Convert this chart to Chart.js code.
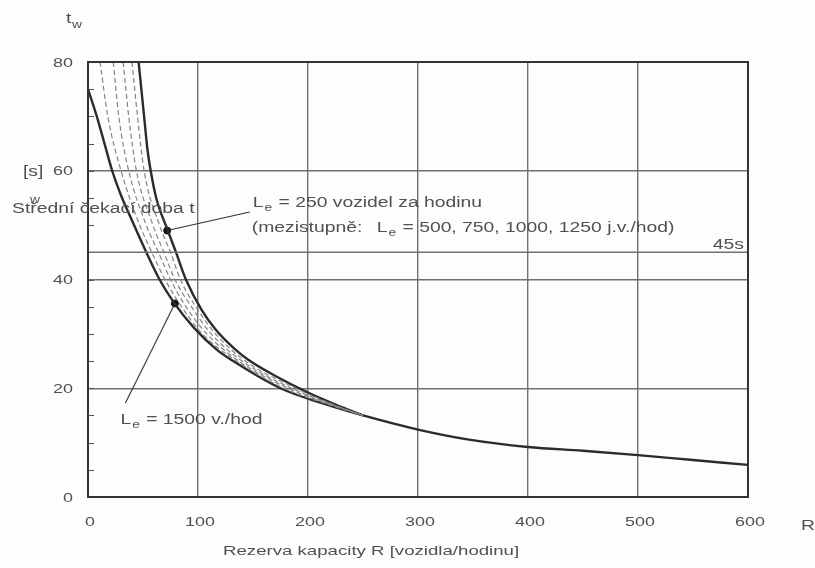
<!DOCTYPE html>
<html>
<head>
<meta charset="utf-8">
<script src="https://cdn.jsdelivr.net/npm/chart.js@4.4.1/dist/chart.umd.min.js"></script>
<style>
  html, body { margin: 0; padding: 0; background: #fdfdfd; }
  #wrap { width: 815px; height: 568px; position: relative; }
</style>
</head>
<body>
<div id="wrap"><canvas id="chart" width="815" height="568"></canvas></div>
<script>
// ── Data ──
const xTicks = [0, 100, 200, 300, 400, 500, 600];
const yTicks = [0, 20, 40, 60, 80];
const limitT = [45];                       // the marked 45 s level

// L_e = 250 veh/h (upper edge of the band)
const upperR = [46, 51, 54, 57, 62, 72, 80, 89, 103, 116, 133, 146, 170, 200, 225, 250];
const upperT = [80, 70, 64, 60, 55, 49.3, 45, 40, 34.5, 30.8, 27.3, 25.2, 22.3, 19.2, 17.0, 15.0];

// L_e = 1500 veh/h (lower edge) + common tail of all curves
const lowerR = [0, 8, 15, 22, 30, 39, 53, 65, 78, 96, 117, 132, 175, 212, 250, 300, 345, 400, 450, 500, 550, 600];
const lowerT = [75, 70, 65, 60, 55.5, 51.3, 45, 40, 35.8, 31.2, 27.1, 25, 20, 17.3, 15.0, 12.4, 10.6, 9.2, 8.5, 7.7, 6.8, 5.9];

// intermediate steps L_e = 500, 750, 1000, 1250 (same t levels)
const midT     = [80, 70, 60, 50, 45, 40, 35, 30, 25, 20, 17, 15.0];
const mid500R  = [40, 45, 51, 65, 75, 84, 98, 116, 143, 189, 223, 250];
const mid750R  = [32, 37, 44, 59, 69, 79, 94, 112, 140, 185, 222, 250];
const mid1000R = [23, 28, 37, 53, 64, 75, 89, 108, 137, 182, 220, 250];
const mid1250R = [11, 18, 30, 47, 58, 70, 85, 104, 135, 178, 219, 250];

// marked points and the ends of their leader lines
const mark250  = { x: 72, y: 49.0 }, lead250  = { x: 147, y: 52.4 };
const mark1500 = { x: 79, y: 35.6 }, lead1500 = { x: 34, y: 17.3 };

// ── Helpers ──
const pts = (xs, ys) => xs.map((x, i) => ({ x, y: ys[i] }));
const FONT = '"Liberation Sans", Arial, sans-serif';
const INK = '#505050';
const SX = 1.38;                           // the scan's text is drawn wide

const solid = data => ({
  data, showLine: true, borderColor: '#2b2b2b', borderWidth: 2.4,
  pointRadius: 0, cubicInterpolationMode: 'monotone', fill: false
});
const dashed = data => ({
  data, showLine: true, borderColor: '#858585', borderWidth: 1.2,
  borderDash: [5, 3], pointRadius: 0, cubicInterpolationMode: 'monotone', fill: false
});

// ── Extra text / box ──
const extras = {
  id: 'extras',
  beforeDatasetsDraw(chart) {
    const { ctx, chartArea: a, scales: { y } } = chart;
    ctx.save();
    // minor ticks on the y axis every 5 s
    ctx.strokeStyle = '#555'; ctx.lineWidth = 1;
    for (let v = 5; v < 80; v += 5) {
      const py = Math.round(y.getPixelForValue(v)) + 0.5;
      ctx.beginPath(); ctx.moveTo(a.left, py); ctx.lineTo(a.left + 6, py); ctx.stroke();
    }
    ctx.restore();
  },
  afterDraw(chart) {
    const { ctx, chartArea: a, scales: { x, y } } = chart;
    ctx.save();
    // frame
    ctx.strokeStyle = '#333'; ctx.lineWidth = 2;
    ctx.strokeRect(a.left, a.top, a.right - a.left, a.bottom - a.top);

    ctx.fillStyle = INK;
    ctx.textBaseline = 'middle';

    // stretched text, returns drawn width
    function txt(str, px, py, size, align) {
      ctx.font = size + 'px ' + FONT;
      const w = ctx.measureText(str).width * SX;
      ctx.save();
      ctx.textAlign = align || 'left';
      ctx.translate(px, py); ctx.scale(SX, 1);
      ctx.fillText(str, 0, 0);
      ctx.restore();
      return w;
    }
    // L with subscript e, followed by text
    function lText(str, px, py, size) {
      let w = txt('L', px, py, size);
      w += txt('e', px + w + 1, py + 5, size - 4) + 2;
      txt(str, px + w, py, size);
    }

    // tick labels
    xTicks.forEach(v => txt(String(v), x.getPixelForValue(v) + 2, 522, 13, 'center'));
    yTicks.forEach(v => txt(String(v), 73, y.getPixelForValue(v) + 1, 13, 'right'));

    // axis titles
    txt('t', 66, 19, 14);
    txt('w', 72, 25, 10);
    txt('[s]', 23, 172, 14);
    txt('Střední čekací doba t', 12, 209, 14);
    txt('w', 30, 200, 10);
    txt('R', 801, 526, 14);
    txt('Rezerva kapacity R [vozidla/hodinu]', 223, 551, 13.5);

    // 45 s label
    txt('45s', a.right - 4, y.getPixelForValue(limitT[0]) - 7, 14, 'right');

    // annotations
    const p250 = { x: x.getPixelForValue(lead250.x), y: y.getPixelForValue(lead250.y) };
    lText(' = 250 vozidel za hodinu', p250.x + 3, p250.y - 9, 14);
    txt('(mezistupně:', p250.x + 2, p250.y + 16, 14);
    lText(' = 500, 750, 1000, 1250 j.v./hod)', p250.x + 127, p250.y + 16, 14);

    const p1500 = { x: x.getPixelForValue(lead1500.x), y: y.getPixelForValue(lead1500.y) };
    lText(' = 1500 v./hod', p1500.x - 5, p1500.y + 17, 14);
    ctx.restore();
  }
};

// ── Chart ──
new Chart(document.getElementById('chart'), {
  type: 'scatter',
  data: {
    datasets: [
      { data: [{ x: 0, y: limitT[0] }, { x: 600, y: limitT[0] }], showLine: true,
        borderColor: '#707070', borderWidth: 1.4, pointRadius: 0 },
      dashed(pts(mid500R, midT)),
      dashed(pts(mid750R, midT)),
      dashed(pts(mid1000R, midT)),
      dashed(pts(mid1250R, midT)),
      solid(pts(upperR, upperT)),
      solid(pts(lowerR, lowerT)),
      { data: [mark250, lead250], showLine: true, borderColor: '#333', borderWidth: 1.1, pointRadius: 0 },
      { data: [mark1500, lead1500], showLine: true, borderColor: '#333', borderWidth: 1.1, pointRadius: 0 },
      { data: [mark250, mark1500], showLine: false, pointRadius: 3.5,
        pointBackgroundColor: '#111', pointBorderColor: '#111' }
    ]
  },
  options: {
    responsive: false,
    animation: false,
    devicePixelRatio: 1,
    layout: { padding: { left: 0, top: 62, right: 67, bottom: 0 } },
    plugins: { legend: { display: false }, tooltip: { enabled: false } },
    scales: {
      x: {
        type: 'linear', min: 0, max: 600,
        afterFit: s => { s.height = 71; },
        afterBuildTicks: s => { s.ticks = xTicks.map(v => ({ value: v })); },
        grid: { color: '#707070', lineWidth: 1.4, drawTicks: false },
        border: { color: '#333', width: 2 },
        ticks: { display: false }
      },
      y: {
        type: 'linear', min: 0, max: 80,
        afterFit: s => { s.width = 88; },
        afterBuildTicks: s => { s.ticks = yTicks.map(v => ({ value: v })); },
        grid: { color: '#707070', lineWidth: 1.4, drawTicks: false },
        border: { color: '#333', width: 2 },
        ticks: { display: false }
      }
    }
  },
  plugins: [extras]
});
</script>
</body>
</html>
